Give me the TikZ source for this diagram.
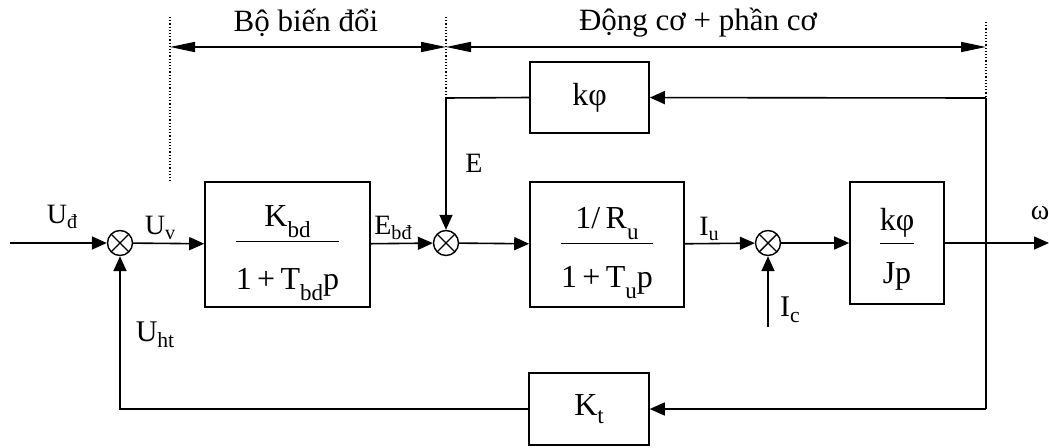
\documentclass[tikz,border=0pt]{standalone}
\usepackage{fontspec}
\setmainfont{Liberation Serif}
\usetikzlibrary{arrows.meta}
\newcommand{\lo}[2][0.3em]{\raisebox{-#1}{\scalebox{0.72}{#2}}}
\newcommand{\frc}[4]{\begin{tabular}{@{}c@{}}\rule{0pt}{39pt}#1\\[#3]\hline\rule{0pt}{#4}#2\end{tabular}}
\tikzset{
  blk/.style={draw, line width=1.6pt, inner sep=0pt, font=\fontsize{32}{38}\selectfont},
  sumnode/.style={draw, circle, line width=1.4pt, minimum size=25pt, inner sep=0pt,
    path picture={\draw[line width=1.4pt] (path picture bounding box.north west) -- (path picture bounding box.south east)
      (path picture bounding box.north east) -- (path picture bounding box.south west);}},
  sig/.style={line width=1.6pt},
  arr/.style={line width=1.6pt, -{Triangle[length=15pt,width=13pt]}},
  dim/.style={line width=1.6pt, {Triangle[length=25pt,width=10pt]}-{Triangle[length=25pt,width=10pt]}},
  guide/.style={line width=1.2pt, dotted},
  lbl/.style={inner sep=0pt, font=\fontsize{28}{32}\selectfont},
  head/.style={inner sep=0pt, font=\fontsize{31}{36}\selectfont}
}
\begin{document}
\begin{tikzpicture}[x=1pt,y=-1pt]
\useasboundingbox (0,0) rectangle (1049,447);
% guides
\coordinate (g1t) at (170,17); \coordinate (g1b) at (170,183);
\coordinate (g2t) at (446,17); \coordinate (g2b) at (446,98);
\coordinate (g3t) at (986,22); \coordinate (g3b) at (986,98);
\draw[guide] (g1t) -- (g1b);
\draw[guide] (g2t) -- (g2b);
\draw[guide] (g3t) -- (g3b);
\coordinate (d1) at (170,47); \coordinate (d2) at (446,47); \coordinate (d3) at (986,47);
\draw[dim] (d1) -- (d2);
\draw[dim] (d2) -- (d3);
\node[head] (h1) at (306,23) {Bộ biến đổi};
\node[head] (h2) at (698,23) {Động cơ + phần cơ};
% blocks
\node[blk, minimum width=119pt, minimum height=71pt] (kphi) at (589.5,97.5) {kφ};
\node[blk, minimum width=165pt, minimum height=125pt] (b1) at (287.5,244.5)
  {\frc{K\lo[0.33em]{bd}}{1\,+\,T\lo[0.33em]{bd}p}{3pt}{48pt}};
\node[blk, minimum width=154pt, minimum height=125pt] (b2) at (607,244.5)
  {\frc{1/\,R\lo[0.33em]{u}}{1\,+\,T\lo[0.33em]{u}p}{3pt}{44pt}};
\node[blk, minimum width=94pt, minimum height=122pt] (b3) at (897,243)
  {\frc{kφ}{Jp}{1pt}{40pt}};
\node[blk, minimum width=120pt, minimum height=72pt] (kt) at (589,409) {K\lo[0.25em]{t}};
% summing junctions
\node[sumnode] (s1) at (120,243) {};
\node[sumnode] (s2) at (446,243) {};
\node[sumnode] (s3) at (768,243) {};
% signals
\coordinate (in) at (10,243);
\coordinate (out) at (1049,243);
\coordinate (ic) at (768,327);
\coordinate (tapt) at (986,98);
\coordinate (tapb) at (986,409);
\coordinate (c1) at (446,98);
\coordinate (c2) at (120,409);
\draw[arr] (in) -- (s1);
\draw[arr] (s1) -- (b1);
\draw[arr] (b1) -- (s2);
\draw[arr] (s2) -- (b2);
\draw[arr] (b2) -- (s3);
\draw[arr] (s3) -- (b3);
\draw[arr] (b3) -- (out);
\draw[arr] (ic) -- (s3);
\draw[sig] (tapt) -- (tapb);
\draw[arr] (tapt) -- (kphi);
\draw[arr] (kphi.west) -- (c1) -- (s2);
\draw[arr] (tapb) -- (kt);
\draw[arr] (kt.west) -- (c2) -- (s1);
% labels
\node[lbl] (lud) at (62,217) {U\lo[0.15em]{đ}};
\node[lbl] (luv) at (160,228) {U\lo[0.15em]{v}};
\node[lbl] (lebd) at (393,228) {E\lo[0.15em]{bđ}};
\node[lbl] (le) at (474,163) {E};
\node[lbl] (liu) at (709,229) {I\lo[0.15em]{u}};
\node[lbl, font=\fontsize{30}{34}\selectfont] (lic) at (790,310) {I\lo[0.2em]{c}};
\node[lbl] (lw) at (1040,213) {ω};
\node[lbl, font=\fontsize{30}{34}\selectfont] (luht) at (155,335) {U\lo[0.2em]{ht}};
\end{tikzpicture}
\end{document}
